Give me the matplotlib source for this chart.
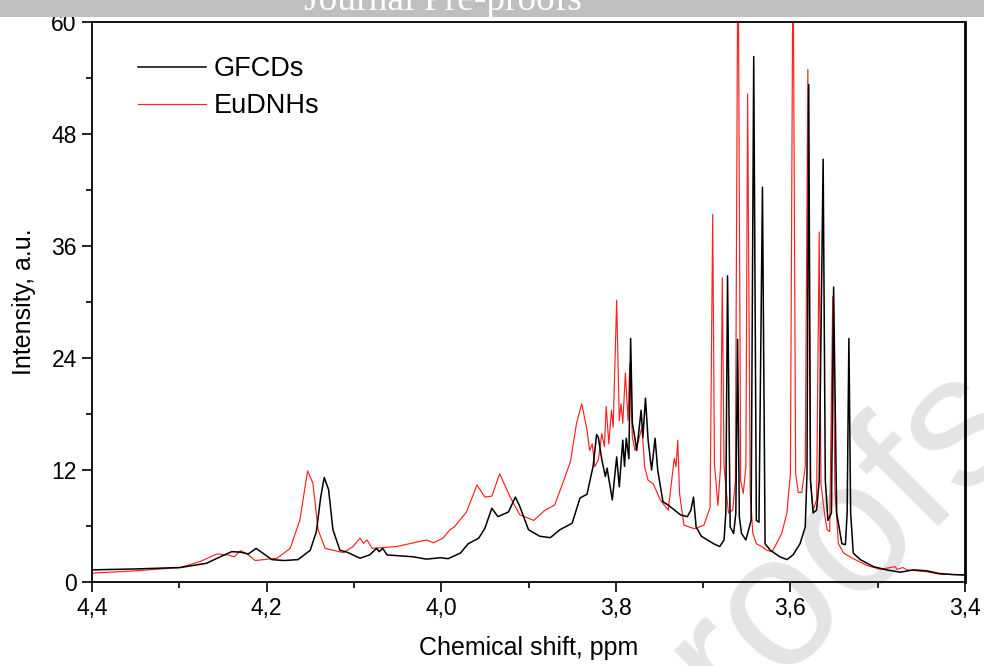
import matplotlib
matplotlib.use("Agg")
import matplotlib.pyplot as plt
from matplotlib.patches import Rectangle
from matplotlib.ticker import FixedLocator, FuncFormatter

plt.rcParams["font.family"] = ["Liberation Sans", "DejaVu Sans"]

# --- data (ppm, intensity a.u.) ---
gfcds_ppm = [
    4.400, 4.350, 4.299, 4.269, 4.253, 4.240, 4.230, 4.221, 4.212, 4.204,
    4.194, 4.180, 4.164, 4.150, 4.143, 4.138, 4.134, 4.129, 4.124, 4.116,
    4.108, 4.093, 4.082, 4.074, 4.071, 4.067, 4.062, 4.032, 4.017, 4.001,
    3.992, 3.978, 3.969, 3.957, 3.950, 3.942, 3.935, 3.923, 3.915, 3.910,
    3.900, 3.887, 3.875, 3.864, 3.850, 3.841, 3.833, 3.826, 3.822, 3.820,
    3.816, 3.812, 3.810, 3.804, 3.799, 3.796, 3.792, 3.790, 3.788, 3.785,
    3.783, 3.781, 3.779, 3.776, 3.771, 3.769, 3.766, 3.763, 3.759, 3.755,
    3.752, 3.746, 3.740, 3.726, 3.718, 3.714, 3.711, 3.708, 3.702, 3.688,
    3.681, 3.676, 3.674, 3.672, 3.669, 3.665, 3.6625, 3.6605, 3.6585, 3.656,
    3.651, 3.645, 3.642, 3.639, 3.636, 3.632, 3.629, 3.623, 3.612, 3.604,
    3.597, 3.589, 3.583, 3.581, 3.579, 3.577, 3.574, 3.570, 3.567, 3.5625,
    3.560, 3.557, 3.553, 3.5505, 3.547, 3.541, 3.537, 3.535, 3.533, 3.531,
    3.528, 3.520, 3.505, 3.490, 3.474, 3.459, 3.444, 3.429, 3.414, 3.400,
]
gfcds_int = [
    1.30, 1.40, 1.55, 2.00, 2.70, 3.25, 3.20, 3.00, 3.60, 3.07,
    2.40, 2.30, 2.40, 3.40, 5.40, 9.10, 11.2, 9.90, 5.60, 3.40,
    3.20, 2.55, 2.90, 3.60, 3.25, 3.60, 2.90, 2.70, 2.45, 2.60,
    2.50, 3.10, 4.10, 4.70, 5.75, 7.90, 7.00, 7.50, 9.10, 8.10,
    5.60, 4.90, 4.75, 5.60, 6.30, 9.00, 9.40, 12.4, 15.8, 15.5,
    13.1, 11.3, 12.2, 8.80, 13.4, 10.2, 15.2, 12.4, 15.4, 13.2,
    26.1, 17.0, 15.9, 14.1, 18.4, 15.5, 19.7, 15.2, 12.0, 15.4,
    12.0, 8.60, 8.25, 7.20, 7.00, 7.70, 9.10, 5.90, 4.90, 4.10,
    3.80, 4.50, 7.40, 32.8, 5.90, 5.20, 7.40, 26.0, 7.00, 5.20,
    4.50, 6.60, 56.3, 6.60, 6.40, 42.3, 4.10, 3.40, 2.70, 2.40,
    2.90, 4.10, 5.90, 11.6, 53.3, 10.9, 7.40, 7.70, 10.9, 45.3,
    10.9, 6.60, 7.40, 31.6, 7.40, 4.10, 4.00, 7.40, 26.1, 7.40,
    3.10, 2.40, 1.65, 1.30, 1.05, 1.30, 1.20, 0.90, 0.80, 0.75,
]

eudnhs_ppm = [
    4.400, 4.350, 4.299, 4.276, 4.257, 4.244, 4.237, 4.230, 4.223, 4.213,
    4.188, 4.173, 4.162, 4.153, 4.147, 4.141, 4.133, 4.112, 4.101, 4.093,
    4.089, 4.085, 4.079, 4.051, 4.017, 4.009, 3.998, 3.990, 3.985, 3.971,
    3.959, 3.950, 3.942, 3.933, 3.921, 3.910, 3.894, 3.881, 3.870, 3.858,
    3.852, 3.845, 3.839, 3.833, 3.830, 3.827, 3.824, 3.820, 3.816, 3.813,
    3.811, 3.808, 3.805, 3.803, 3.799, 3.796, 3.794, 3.792, 3.789, 3.786,
    3.784, 3.781, 3.778, 3.775, 3.770, 3.767, 3.763, 3.757, 3.749, 3.740,
    3.733, 3.731, 3.729, 3.727, 3.722, 3.710, 3.699, 3.692, 3.689, 3.687,
    3.683, 3.680, 3.678, 3.676, 3.671, 3.666, 3.663, 3.660, 3.657, 3.654,
    3.651, 3.649, 3.646, 3.643, 3.639, 3.633, 3.627, 3.621, 3.616, 3.610,
    3.604, 3.600, 3.597, 3.594, 3.591, 3.587, 3.583, 3.580, 3.577, 3.574,
    3.570, 3.567, 3.565, 3.561, 3.558, 3.555, 3.5515, 3.549, 3.545, 3.539,
    3.528, 3.513, 3.497, 3.480, 3.478, 3.471, 3.467, 3.444, 3.429, 3.400,
]
eudnhs_int = [
    0.95, 1.20, 1.55, 2.20, 3.00, 2.90, 2.70, 3.35, 3.05, 2.30,
    2.55, 3.60, 6.60, 11.9, 10.6, 5.60, 3.60, 3.15, 3.80, 4.70,
    4.15, 4.50, 3.60, 3.80, 4.50, 4.20, 4.70, 5.60, 5.90, 7.50,
    10.4, 9.10, 9.20, 11.6, 9.10, 7.20, 6.60, 7.70, 8.25, 11.3,
    12.9, 17.0, 19.1, 16.3, 14.1, 14.8, 12.35, 13.1, 15.9, 14.5,
    18.8, 14.8, 18.4, 16.6, 30.2, 17.3, 19.1, 17.0, 22.4, 17.3,
    23.4, 15.5, 14.1, 14.8, 16.6, 12.35, 10.9, 10.5, 8.80, 7.70,
    13.25, 12.35, 15.2, 9.50, 6.10, 5.70, 6.10, 8.00, 39.4, 12.7,
    8.20, 12.35, 32.6, 12.35, 7.40, 7.70, 10.9, 72.0, 10.9, 9.50,
    12.35, 52.3, 9.50, 5.20, 4.10, 3.80, 3.40, 3.25, 4.10, 5.20,
    7.40, 11.6, 70.0, 11.6, 9.60, 9.60, 12.35, 54.9, 10.9, 7.70,
    8.80, 37.5, 10.5, 7.40, 5.60, 5.40, 30.6, 9.80, 4.10, 3.10,
    2.50, 1.80, 1.35, 1.65, 1.35, 1.55, 1.30, 1.10, 0.85, 0.75,
]

x_ticks = [4.4, 4.2, 4.0, 3.8, 3.6, 3.4]
x_minor = [4.3, 4.1, 3.9, 3.7, 3.5]
y_ticks = [0, 12, 24, 36, 48, 60]
y_minor = [6, 18, 30, 42, 54]

W, H = 984, 666
fig = plt.figure(figsize=(W / 100, H / 100), dpi=100)
ax = fig.add_axes([92 / W, 1 - 582 / H, (965 - 92) / W, (582 - 22) / H])
ax.set_facecolor("none")

# diagonal watermark behind the plot
fig.text(1030 / W, 1 - 435 / H, "Journal Pre-proofs", color="#e4e4e4",
         fontsize=135, rotation=45, rotation_mode="anchor",
         ha="right", va="baseline", zorder=-1)

ax.plot(gfcds_ppm, gfcds_int, color="black", lw=1.1, label="GFCDs", zorder=3)
ax.plot(eudnhs_ppm, eudnhs_int, color="#ff2020", lw=0.85, label="EuDNHs", zorder=2)

ax.set_xlim(4.4, 3.4)
ax.set_ylim(0, 60)
ax.xaxis.set_major_locator(FixedLocator(x_ticks))
ax.xaxis.set_minor_locator(FixedLocator(x_minor))
ax.yaxis.set_major_locator(FixedLocator(y_ticks))
ax.yaxis.set_minor_locator(FixedLocator(y_minor))
ax.xaxis.set_major_formatter(FuncFormatter(lambda v, p: f"{v:.1f}".replace(".", ",")))
ax.yaxis.set_major_formatter(FuncFormatter(lambda v, p: f"{v:.0f}"))

ax.tick_params(which="both", direction="out", top=False, right=False,
               labelsize=16.5, width=1.2)
ax.tick_params(which="major", length=7, pad=4)
ax.tick_params(which="minor", length=4)
for s in ax.spines.values():
    s.set_linewidth(1.3)
ax.spines["right"].set_linewidth(2.0)

ax.set_xlabel("Chemical shift, ppm", fontsize=18, labelpad=11)
ax.set_ylabel("Intensity, a.u.", fontsize=18, labelpad=11)

ax.legend(loc="upper left", bbox_to_anchor=(138 / W, 1 - 56 / H),
          bbox_transform=fig.transFigure, frameon=False, fontsize=19.5,
          handlelength=2.5, handletextpad=0.3, labelspacing=0.42,
          borderpad=0, borderaxespad=0)

# grey banner of the source page
fig.add_artist(Rectangle((0, 1 - 17 / H), 1, 17 / H, transform=fig.transFigure,
                         facecolor="#bfbfbf", edgecolor="none", zorder=10))
fig.text(443 / W, 1 - 10 / H, "Journal Pre-proofs", color="white",
         family="Liberation Serif", fontsize=27, ha="center", va="baseline",
         zorder=11)

fig.savefig("out.png", dpi=100)
